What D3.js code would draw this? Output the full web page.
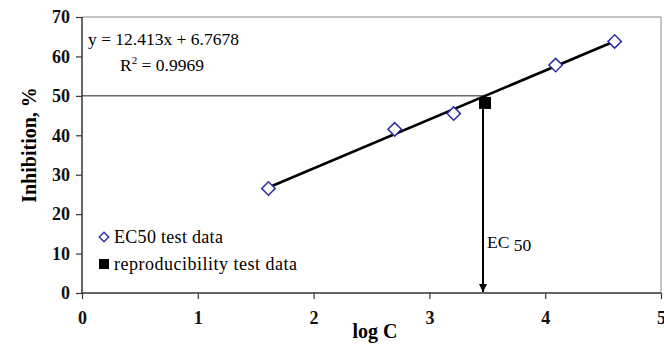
<!DOCTYPE html>
<html>
<head>
<meta charset="utf-8">
<title>EC50 linear fit</title>
<script src="https://d3js.org/d3.v7.min.js"></script>
<style>
  body { margin: 0; background: #fff; }
  svg text { font-family: "Liberation Serif", "Times New Roman", serif; }
</style>
</head>
<body>
<div id="chart"></div>
<script>
// EC50 test data (log C vs inhibition %)
var logC = [1.61, 2.70, 3.21, 4.09, 4.60];
var inhibition = [26.5, 41.5, 45.5, 57.8, 63.8];
// reproducibility test data
var reproLogC = [3.48];
var reproInhibition = [48.2];
// fitted line
var slope = 12.413, intercept = 6.7678;
var fitText = ["y = 12.413x + 6.7678", "0.9969"];
var ec50Level = 50;
var xTicks = [0, 1, 2, 3, 4, 5];
var yTicks = [0, 10, 20, 30, 40, 50, 60, 70];

var W = 664, H = 345;
var m = {left: 82, right: 3, top: 17, bottom: 52};

var svg = d3.select("#chart").append("svg")
    .attr("width", W).attr("height", H);

var x = d3.scaleLinear().domain([0, 5]).range([m.left, W - m.right]);
var y = d3.scaleLinear().domain([0, 70]).range([H - m.bottom, m.top]);

// plot frame (top / right)
svg.append("path")
    .attr("d", "M" + x(0) + "," + y(70) + "H" + x(5) + "V" + y(0))
    .attr("fill", "none").attr("stroke", "#888").attr("stroke-width", 1);

// axes
var gy = svg.append("g")
    .attr("transform", "translate(" + x(0) + ",0)")
    .call(d3.axisLeft(y).tickValues(yTicks).tickSize(6).tickPadding(6).tickFormat(d3.format("d")));
var gx = svg.append("g")
    .attr("transform", "translate(0," + y(0) + ")")
    .call(d3.axisBottom(x).tickValues(xTicks).tickSize(6).tickPadding(12).tickFormat(d3.format("d")));

[gx, gy].forEach(function(g) {
  g.select(".domain").attr("stroke", "#333").attr("stroke-width", 1.5);
  g.selectAll(".tick line").attr("stroke", "#333").attr("stroke-width", 1.2);
  g.selectAll(".tick text")
    .attr("fill", "#111")
    .style("font-family", "'Liberation Serif', serif")
    .style("font-size", "18px")
    .style("font-weight", "bold");
});
gx.select(".domain").attr("d", "M" + x(0) + ",0H" + x(5));
gy.select(".domain").attr("d", "M0," + y(0) + "V" + y(70));

// axis titles
svg.append("text")
    .attr("transform", "translate(36," + 145 + ") rotate(-90)")
    .attr("text-anchor", "middle")
    .style("font-size", "20px").style("font-weight", "bold")
    .text("Inhibition, %");
svg.append("text")
    .attr("x", 375).attr("y", 338)
    .attr("text-anchor", "middle")
    .style("font-size", "20px").style("font-weight", "bold")
    .text("log C");

// 50 % level line, ending at the fitted line
var xEc50 = (ec50Level - intercept) / slope;
svg.append("line")
    .attr("x1", x(0)).attr("x2", x(xEc50))
    .attr("y1", y(ec50Level)).attr("y2", y(ec50Level))
    .attr("stroke", "#222").attr("stroke-width", 1);

// fitted line
var x0 = d3.min(logC), x1 = d3.max(logC);
svg.append("line")
    .attr("x1", x(x0)).attr("y1", y(slope * x0 + intercept))
    .attr("x2", x(x1)).attr("y2", y(slope * x1 + intercept))
    .attr("stroke", "#000").attr("stroke-width", 2.6);

// arrow down to x axis
svg.append("defs").append("marker")
    .attr("id", "arrow")
    .attr("viewBox", "0 0 10 10")
    .attr("refX", 10).attr("refY", 5)
    .attr("markerWidth", 4).attr("markerHeight", 4)
    .attr("markerUnits", "strokeWidth")
    .attr("orient", "auto")
  .append("path").attr("d", "M0,0L10,5L0,10Z").attr("fill", "#000");

svg.append("line")
    .attr("x1", x(reproLogC[0]) - 2).attr("x2", x(reproLogC[0]) - 2)
    .attr("y1", y(reproInhibition[0])).attr("y2", y(0) - 1)
    .attr("stroke", "#000").attr("stroke-width", 2)
    .attr("marker-end", "url(#arrow)");

// EC50 test data markers
var diamond = d3.symbol().type(d3.symbolSquare).size(90);
svg.selectAll(".ec50").data(logC).enter().append("path")
    .attr("class", "ec50")
    .attr("d", diamond)
    .attr("transform", function(d, i) {
      return "translate(" + x(d) + "," + y(inhibition[i]) + ") rotate(45)";
    })
    .attr("fill", "#fff").attr("stroke", "#2b2b9e").attr("stroke-width", 1.5);

// reproducibility marker
svg.selectAll(".repro").data(reproLogC).enter().append("rect")
    .attr("class", "repro")
    .attr("x", function(d) { return x(d) - 6; })
    .attr("y", function(d, i) { return y(reproInhibition[i]) - 6; })
    .attr("width", 12).attr("height", 12)
    .attr("fill", "#000");

// equation
svg.append("text").attr("x", 88).attr("y", 45)
    .style("font-size", "17.5px").text(fitText[0]);
var r2 = svg.append("text").attr("x", 120).attr("y", 71)
    .style("font-size", "17.5px");
r2.append("tspan").text("R");
r2.append("tspan").attr("dy", -7).style("font-size", "11px").text("2");
r2.append("tspan").attr("dy", 7).text(" = " + fitText[1]);

// EC 50 label
var ec = svg.append("text").attr("x", 487).attr("y", 248).style("font-size", "17.5px");
ec.append("tspan").text("EC ");
ec.append("tspan").attr("dy", 3).text("50");

// legend
var lg = svg.append("g");
lg.append("path")
    .attr("d", d3.symbol().type(d3.symbolSquare).size(45))
    .attr("transform", "translate(104,237) rotate(45)")
    .attr("fill", "#fff").attr("stroke", "#2b2b9e").attr("stroke-width", 1.4);
lg.append("text").attr("x", 114).attr("y", 243)
    .style("font-size", "18px").style("letter-spacing", "0.3px").text("EC50 test data");
lg.append("rect").attr("x", 99).attr("y", 259).attr("width", 10).attr("height", 10).attr("fill", "#000");
lg.append("text").attr("x", 114).attr("y", 270)
    .style("font-size", "18px").style("letter-spacing", "0.5px").text("reproducibility test data");
</script>
</body>
</html>
